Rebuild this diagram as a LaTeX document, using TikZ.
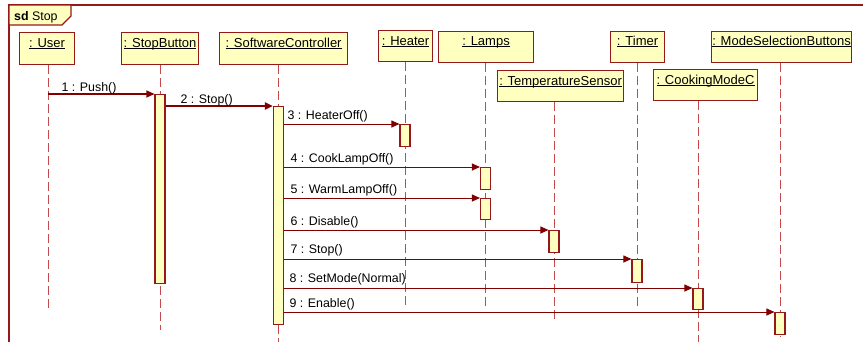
\documentclass[tikz,border=0pt]{standalone}
\usepackage{fontspec}
\setmainfont{Liberation Sans}
\usetikzlibrary{arrows.meta}
\definecolor{edge}{RGB}{150,25,25}
\definecolor{msgred}{RGB}{128,0,0}
\definecolor{lifered}{RGB}{195,75,75}
\definecolor{boxfill}{RGB}{255,255,192}
% object name with a fixed underline just below the baseline
\newcommand\ulname[1]{\setbox0\hbox{#1}\rlap{\rule[-1.6pt]{\wd0}{0.9pt}}\box0}
\begin{document}
\begin{tikzpicture}[x=1pt,y=-1pt,
  headbox/.style={draw=edge, line width=1.1pt, fill=boxfill, rectangle, inner sep=0pt,
    minimum height=31pt, anchor=north west},
  headname/.style={anchor=base, inner sep=0pt, font=\fontsize{13}{15}\selectfont},
  actbar/.style={draw=edge, line width=1.1pt, fill=boxfill, rectangle, inner sep=0pt,
    minimum width=10pt, anchor=north},
  lifeline/.style={draw=lifered, line width=1pt, dash pattern=on 9pt off 4pt},
  msg/.style={draw=msgred, line width=1pt, -{Triangle[length=8pt,width=7pt]}},
  msglabel/.style={anchor=base west, inner sep=0pt, font=\fontsize{12.4}{14}\selectfont},
]
\useasboundingbox (0,0) rectangle (863,341);

% frame and its tab
\draw[edge, line width=1.1pt] (9,345) -- (9,5) -- (866,5);
\draw[edge, line width=1.1pt, fill=boxfill] (9,5) -- (71,5) -- (71,16) -- (62,25) -- (9,25) -- cycle;
\node[anchor=base west, inner sep=0pt, font=\fontsize{12.4}{14}\selectfont] (frameTitle) at (14,20) {\textbf{sd} Stop};

% object heads
\node[headbox, minimum width=55pt, minimum height=32pt] (user) at (19,32) {};
\node[headbox, minimum width=77pt, minimum height=32pt] (stopbtn) at (121,32) {};
\node[headbox, minimum width=128pt, minimum height=32pt] (ctrl) at (219,32) {};
\node[headbox, minimum width=54pt] (heater) at (378,30) {};
\node[headbox, minimum width=95pt] (lamps) at (438,30.5) {};
\node[headbox, minimum width=126pt] (tsensor) at (497,70) {};
\node[headbox, minimum width=54pt] (timer) at (610,30.5) {};
\node[headbox, minimum width=104pt] (cmode) at (653,69) {};
\node[headbox, minimum width=140pt] (modebtn) at (711,30.5) {};

\node[headname] (userName) at ([yshift=-15.5pt]user.north) {\ulname{: User}};
\node[headname] (stopbtnName) at ([yshift=-15.5pt]stopbtn.north) {\ulname{: StopButton}};
\node[headname] (ctrlName) at ([yshift=-15.5pt]ctrl.north) {\ulname{: SoftwareController}};
\node[headname] (heaterName) at ([yshift=-15pt]heater.north) {\ulname{: Heater}};
\node[headname] (lampsName) at ([yshift=-15pt]lamps.north) {\ulname{: Lamps}};
\node[headname] (tsensorName) at ([yshift=-15pt]tsensor.north) {\ulname{: TemperatureSensor}};
\node[headname] (timerName) at ([yshift=-15pt]timer.north) {\ulname{: Timer}};
\node[headname] (cmodeName) at ([yshift=-15pt]cmode.north) {\ulname{: CookingModeC}};
\node[headname] (modebtnName) at ([yshift=-15pt]modebtn.north) {\ulname{: ModeSelectionButtons}};

% lifeline ends
\coordinate (userEnd) at (48,311);
\coordinate (stopbtnEnd) at (160.5,330);
\coordinate (ctrlEnd) at (278.5,345);
\coordinate (heaterEnd) at (405.5,307);
\coordinate (lampsEnd) at (485.5,307);
\coordinate (tsensorEnd) at (554.5,320);
\coordinate (timerEnd) at (637.5,307);
\coordinate (cmodeEnd) at (698.5,345);
\coordinate (modebtnEnd) at (780.5,337);

\draw[lifeline] (userEnd |- user.south) -- (userEnd);
\draw[lifeline] (stopbtnEnd |- stopbtn.south) -- (stopbtnEnd);
\draw[lifeline] (ctrlEnd |- ctrl.south) -- (ctrlEnd);
\draw[lifeline] (heaterEnd |- heater.south) -- (heaterEnd);
\draw[lifeline] (lampsEnd |- lamps.south) -- (lampsEnd);
\draw[lifeline] (tsensorEnd |- tsensor.south) -- (tsensorEnd);
\draw[lifeline] (timerEnd |- timer.south) -- (timerEnd);
\draw[lifeline] (cmodeEnd |- cmode.south) -- (cmodeEnd);
\draw[lifeline] (modebtnEnd |- modebtn.south) -- (modebtnEnd);

% activation bars
\node[actbar, minimum height=189pt] (stopbtnBar) at (160,94) {};
\node[actbar, minimum height=218pt] (ctrlBar) at (278.5,106) {};
\node[actbar, minimum height=22pt] (heaterBar) at (405,124) {};
\node[actbar, minimum height=22pt] (lampsBarA) at (485.5,167) {};
\node[actbar, minimum height=21pt] (lampsBarB) at (485.5,198) {};
\node[actbar, minimum height=22pt] (tsensorBar) at (554,230) {};
\node[actbar, minimum height=23pt] (timerBar) at (637,259) {};
\node[actbar, minimum height=21pt] (cmodeBar) at (698,288) {};
\node[actbar, minimum height=22pt] (modebtnBar) at (780,312) {};

% messages
\draw[msg, line width=1.2pt] (userEnd |- stopbtnBar.north) -- (stopbtnBar.north west)
  node[msglabel, pos=0, xshift=13pt, yshift=3pt] {1 : Push()};
\draw[msg, line width=2pt] (stopbtnBar.east |- ctrlBar.north) -- (ctrlBar.north west)
  node[msglabel, pos=0, xshift=14pt, yshift=3pt] {2 : Stop()};
\draw[msg] (ctrlBar.east |- heaterBar.north) -- (heaterBar.north west)
  node[msglabel, pos=0, xshift=3pt, yshift=5pt] {3 : HeaterOff()};
\draw[msg] (ctrlBar.east |- lampsBarA.north) -- (lampsBarA.north west)
  node[msglabel, pos=0, xshift=6pt, yshift=4.5pt] {4 : CookLampOff()};
\draw[msg] (ctrlBar.east |- lampsBarB.north) -- (lampsBarB.north west)
  node[msglabel, pos=0, xshift=6pt, yshift=5pt] {5 : WarmLampOff()};
\draw[msg] (ctrlBar.east |- tsensorBar.north) -- (tsensorBar.north west)
  node[msglabel, pos=0, xshift=6pt, yshift=5pt] {6 : Disable()};
\draw[msg] (ctrlBar.east |- timerBar.north) -- (timerBar.north west)
  node[msglabel, pos=0, xshift=6pt, yshift=6pt] {7 : Stop()};
\draw[msg] (ctrlBar.east |- cmodeBar.north) -- (cmodeBar.north west)
  node[msglabel, pos=0, xshift=5pt, yshift=6pt] {8 : SetMode(Normal)};
\draw[msg] (ctrlBar.east |- modebtnBar.north) -- (modebtnBar.north west)
  node[msglabel, pos=0, xshift=5pt, yshift=5pt] {9 : Enable()};
\end{tikzpicture}
\end{document}
